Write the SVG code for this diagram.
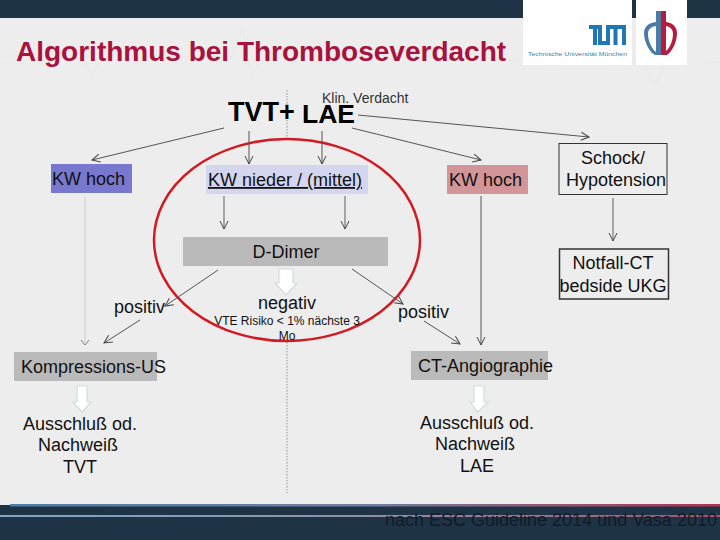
<svg xmlns="http://www.w3.org/2000/svg" width="720" height="540" viewBox="0 0 720 540">
<defs>
<linearGradient id="barTop" x1="0" x2="1" y1="0" y2="0"><stop offset="0" stop-color="#4f7ea6"/><stop offset="0.5" stop-color="#6f7f9f"/><stop offset="1" stop-color="#b3324f"/></linearGradient>
<linearGradient id="barMid" x1="0" x2="1" y1="0" y2="0"><stop offset="0" stop-color="#7fa6c8"/><stop offset="0.5" stop-color="#8f8fa8"/><stop offset="1" stop-color="#a8506c"/></linearGradient>
<marker id="a" viewBox="0 0 10 10" refX="9" refY="5" markerWidth="10" markerHeight="10" markerUnits="userSpaceOnUse" orient="auto"><path d="M1 1L9 5L1 9" fill="none" stroke="#444" stroke-width="1"/></marker>
</defs>
<style>
text{font-family:"Liberation Sans",Arial,sans-serif;fill:#111}
.c{text-anchor:middle}
.l{font-size:18px}
.cn{fill:none;stroke:#555;stroke-width:1;marker-end:url(#a)}
.cg{fill:none;stroke:#777;stroke-width:1.2;marker-end:url(#a)}
.fat{fill:#fff;stroke:#d3dcdc;stroke-width:1.2}
</style>
<rect width="720" height="540" fill="#ededed"/>
<path d="M0 57L60 52L80 50L92 78L102 50L170 56L232 57L242 28L252 80L262 52L520 60" fill="none" stroke="#e9e9e9" stroke-width="1"/>
<path d="M505 60L640 60L655 85L675 35L690 60L720 62" fill="none" stroke="#e9e9e9" stroke-width="1"/>
<rect width="720" height="18" fill="#1f3346"/>
<rect y="505" width="720" height="35" fill="#1f3346"/>
<rect x="10" y="504" width="710" height="2.500" fill="url(#barTop)"/>
<rect y="515" width="720" height="2" fill="url(#barMid)"/>
<path d="M287 90V138M287 342V493" fill="none" stroke="#999" stroke-width="1" stroke-dasharray="1.5 1.5"/>
<g id="logo-tum">
<rect x="523" y="0" width="109" height="65" fill="#fff"/>
<path d="M589 25H602V41H606V25H626V45H622V29H617.500V45H613.500V29H610V45H598V29H597V45H593V29H589Z" fill="#1f78b4"/>
<text x="528" y="56" font-size="6" textLength="99" lengthAdjust="spacingAndGlyphs" style="fill:#3f7fa8">Technische Universität München</text>
</g>
<g id="logo-db">
<rect x="636" y="0" width="51" height="65" fill="#fff"/>
<path fill-rule="evenodd" d="M656 11H661V55H655C650 53 644 42 644 33C644 27 648 23 656 22ZM656 26C650 27 648 30 648 34C648 41 652 49 656 52Z" fill="#4a7ba6"/>
<path fill-rule="evenodd" d="M661 11H666V22C673 23 677 27 677 33C677 42 672 52 667 55H661ZM666 26V51C670 48 673 40 673 34C673 30 671 27 666 26Z" fill="#b51d3f"/>
</g>
<text id="title" x="16" y="61" font-size="28" font-weight="700" style="fill:#a8123c">Algorithmus bei Thromboseverdacht</text>
<ellipse id="red-circle" cx="287" cy="240" rx="133" ry="101" fill="none" stroke="#d11a22" stroke-width="2.500"/>
<g id="connectors">
<path class="cn" d="M224 128L92 160"/>
<path class="cn" d="M249 131V164"/>
<path class="cn" d="M322 131V164"/>
<path class="cn" d="M352 128L481 160"/>
<path class="cn" d="M358 115L589 137"/>
<path class="cg" d="M224 196V229"/>
<path class="cg" d="M345 196V229"/>
<path d="M85 197V342" fill="none" stroke="#dcdcdc" stroke-width="2"/>
<path d="M81 340L85 345L89 340" fill="none" stroke="#777" stroke-width="1"/>
<path class="cn" d="M218 270L165 306"/>
<path class="cn" d="M140 320L104 343"/>
<path class="cn" d="M352 269L403 304"/>
<path class="cn" d="M424 321L460 344"/>
<path class="cn" d="M481 196V345"/>
<path class="cg" d="M613 198V241"/>
</g>
<g id="fat-arrows">
<path class="fat" d="M279 269H293V283H297L286 295L275 283H279Z"/>
<path class="fat" d="M77 386H87V402H91L82 412L73 402H77Z"/>
<path class="fat" d="M474 386H484V402H488L478 412L470 402H474Z"/>
</g>
<g id="node-tvt"><text x="228" y="121" font-size="27" font-weight="700" style="fill:#000">TVT+</text></g>
<g id="node-lae"><text x="302" y="123" font-size="26.500" font-weight="700" style="fill:#000">LAE</text></g>
<g id="node-klin"><text x="322" y="103" font-size="14" style="fill:#333">Klin. Verdacht</text></g>
<g id="node-kw-hoch-l"><rect x="51" y="164" width="81" height="29" fill="#7878cf"/><text class="l" x="52" y="185">KW hoch</text></g>
<g id="node-kw-nieder"><rect x="206" y="165" width="162" height="29" fill="#d3d6ee"/><text class="l" x="208" y="186" text-decoration="underline">KW nieder / (mittel)</text></g>
<g id="node-kw-hoch-r"><rect x="447" y="165" width="81" height="29" fill="#d39698"/><text class="l" x="449" y="186">KW hoch</text></g>
<g id="node-schock"><rect x="559" y="143.500" width="108" height="51" fill="#ededed" stroke="#333"/><text class="l c" x="613" y="164">Schock/</text><text class="l c" x="616" y="186">Hypotension</text></g>
<g id="node-ddimer"><rect x="183" y="237" width="205" height="29" fill="#bababa"/><text class="l c" x="286" y="258">D-Dimer</text></g>
<g id="node-notfall"><rect x="559.500" y="249" width="109" height="50" fill="#ededed" stroke="#333" stroke-width="1.500"/><text class="l c" x="613" y="269">Notfall-CT</text><text class="l c" x="613" y="292">bedside UKG</text></g>
<g id="node-pos-l"><text class="l" x="114" y="313">positiv</text></g>
<g id="node-negativ"><text class="l c" x="287" y="309">negativ</text><text class="c" x="287" y="325" font-size="12">VTE Risiko &lt; 1% nächste 3</text><text class="c" x="287" y="340" font-size="12">Mo</text></g>
<g id="node-pos-r"><text class="l" x="398" y="318">positiv</text></g>
<g id="node-us"><rect x="14" y="352" width="143" height="29" fill="#bababa"/><text class="l" x="21" y="373">Kompressions-US</text></g>
<g id="node-ct"><rect x="411" y="351" width="137" height="29" fill="#bababa"/><text class="l" x="418" y="372">CT-Angiographie</text></g>
<g id="node-out-l"><text class="l c" x="80" y="430">Ausschluß od.</text><text class="l c" x="78" y="451">Nachweiß</text><text class="l c" x="80" y="473">TVT</text></g>
<g id="node-out-r"><text class="l c" x="477" y="429">Ausschluß od.</text><text class="l c" x="475" y="450">Nachweiß</text><text class="l c" x="477" y="472">LAE</text></g>
<text id="footer" x="385" y="526" font-size="18" style="fill:#111c28">nach ESC Guideline 2014 und Vasa 2010</text>
</svg>
